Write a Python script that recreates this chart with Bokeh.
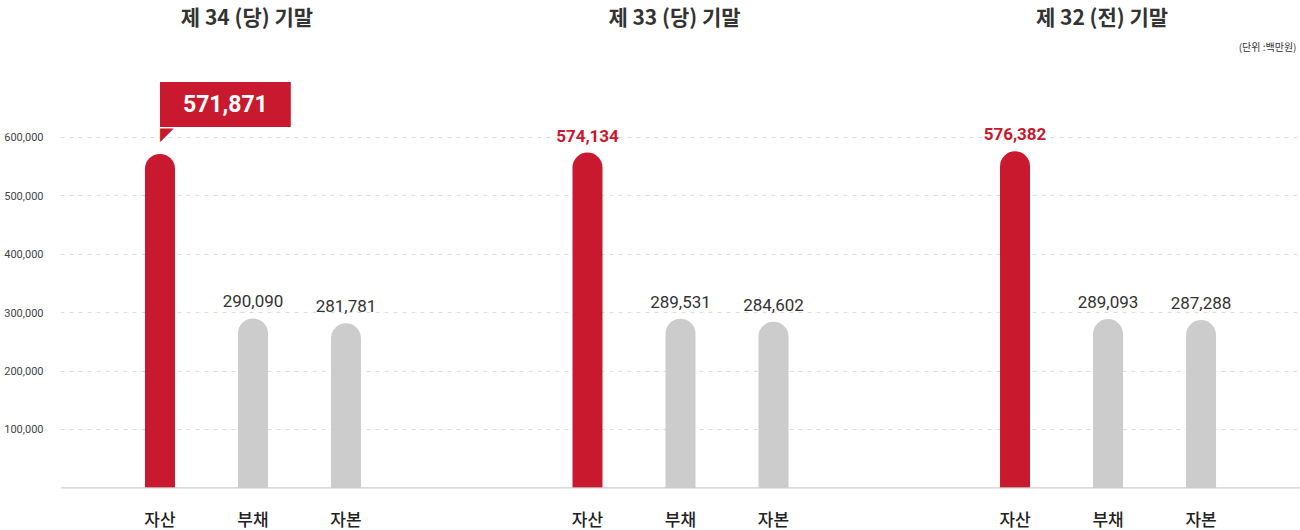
from bokeh.plotting import figure
from bokeh.models import (FactorRange, Range1d, ColumnDataSource, LabelSet, Label,
                          FixedTicker, NumeralTickFormatter, Span)
from bokeh.core.properties import value
from bokeh.embed import file_html
from bokeh.resources import INLINE

# ---- data ----
groups = ["제 34 (당) 기말", "제 33 (당) 기말", "제 32 (전) 기말"]
items = ["자산", "부채", "자본"]
assets = [571871, 574134, 576382]
liabilities = [290090, 289531, 289093]
equity = [281781, 284602, 287288]
y_ticks = [100000, 200000, 300000, 400000, 500000, 600000]
unit_text = "(단위 :백만원)"

RED = "#c8192e"
GRAY = "#cccccc"
TXT = "#333333"
NUM_FONT = "Roboto"
KR_FONT = "Noto Sans CJK KR"
KR_MED = "'Noto Sans CJK KR Medium', 'Noto Sans CJK KR'"

factors = []
vals = []
for g, a, l, e in zip(groups, assets, liabilities, equity):
    for it, v in zip(items, [a, l, e]):
        factors.append((g, it))
        vals.append(v)
colors = [RED if it == items[0] else GRAY for _, it in factors]

x_range = FactorRange(*factors, factor_padding=0.0, group_padding=1.597,
                      range_padding=0.5695, range_padding_units="absolute")
p = figure(width=1300, height=530, x_range=x_range, y_range=Range1d(-73000, 834600),
           output_backend="svg", toolbar_location=None,
           min_border_left=60, min_border_right=0, min_border_top=0, min_border_bottom=0)
p.outline_line_color = None
p.background_fill_color = "white"
p.border_fill_color = "white"
p.xaxis.visible = False
p.xgrid.visible = False

ticker = FixedTicker(ticks=y_ticks)
p.yaxis.ticker = ticker
p.ygrid.ticker = ticker
p.yaxis.formatter = NumeralTickFormatter(format="0,0")
p.yaxis.axis_line_color = None
p.yaxis.major_tick_line_color = None
p.yaxis.minor_tick_line_color = None
p.yaxis.major_label_standoff = 11
p.yaxis.major_label_text_font = NUM_FONT
p.yaxis.major_label_text_font_size = "11px"
p.yaxis.major_label_text_color = "#444444"
p.ygrid.grid_line_color = "#dcdcdc"
p.ygrid.grid_line_dash = "4 5"

src = ColumnDataSource(dict(x=factors, top=vals, color=colors))
p.vbar(x="x", top="top", width=0.3226, fill_color="color", line_color=None,
       source=src, border_radius=(15, 15, 0, 0))

# baseline
p.add_layout(Span(location=0, dimension="width", line_color="#c4c4c4", line_width=1))

# red value labels (except the callout)
red_src = ColumnDataSource(dict(x=[(g, items[0]) for g in groups[1:]], y=assets[1:],
                                t=[f"{v:,}" for v in assets[1:]]))
p.add_layout(LabelSet(x="x", y="y", text="t", source=red_src, y_offset=11,
                      text_align="center", text_baseline="alphabetic",
                      text_font=value(NUM_FONT), text_font_style="bold",
                      text_font_size="17px", text_color=RED))

gx, gy = [], []
for g, l, e in zip(groups, liabilities, equity):
    gx += [(g, items[1]), (g, items[2])]
    gy += [l, e]
gray_src = ColumnDataSource(dict(x=gx, y=gy, t=[f"{v:,}" for v in gy]))
p.add_layout(LabelSet(x="x", y="y", text="t", source=gray_src, y_offset=11,
                      text_align="center", text_baseline="alphabetic",
                      text_font=value(NUM_FONT), text_font_size="17px", text_color=TXT))

# callout for first asset
call_src = ColumnDataSource(dict(x=[(groups[0], items[0])], y=[assets[0]],
                                 t=[f"{assets[0]:,}"], tri=["◤"]))
p.text(x="x", y="y", text="t", source=call_src, anchor="bottom_left", y_offset=-27,
       text_color="white", text_font=value(NUM_FONT), text_font_style="bold",
       text_font_size="23px", background_fill_color=RED, padding=(23, 23, 13, 15))
p.text(x="x", y="y", text="tri", source=call_src, anchor="top_left", y_offset=-31,
       text_color=RED, text_font=value("DejaVu Sans"), text_font_size="18px")

# category labels
cat_src = ColumnDataSource(dict(x=factors, t=[it for _, it in factors]))
p.add_layout(LabelSet(x="x", y=0, text="t", source=cat_src, y_offset=-31,
                      text_align="center", text_baseline="middle",
                      text_font=value(KR_MED), text_font_size="17px", text_color="#222222"))

# group titles
title_src = ColumnDataSource(dict(x=[(g, items[1]) for g in groups], t=groups))
p.add_layout(LabelSet(x="x", y=515, y_units="screen", text="t", source=title_src,
                      x_offset=-6, text_align="center", text_baseline="middle",
                      text_font=value(KR_FONT), text_font_style="bold",
                      text_font_size="21px", text_color=TXT))

# unit label
p.add_layout(Label(x=1236, x_units="screen", y=484, y_units="screen", text=unit_text,
                   text_align="right", text_baseline="middle", text_font=KR_FONT,
                   text_font_size="10px", text_color=TXT))

open("out.html", "w").write(file_html(p, INLINE))
